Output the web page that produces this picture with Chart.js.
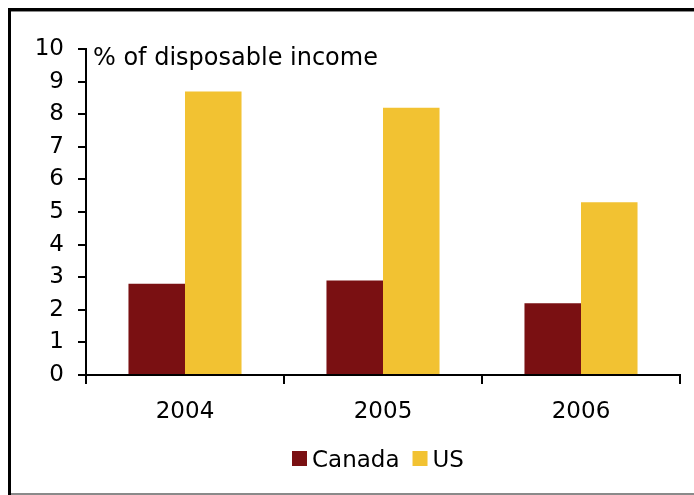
<!DOCTYPE html>
<html>
<head>
<meta charset="utf-8">
<script src="https://cdn.jsdelivr.net/npm/chart.js@4/dist/chart.umd.min.js"></script>
<style>
  body { margin: 0; background: #fff; }
  #wrap { width: 694px; height: 495px; }
</style>
</head>
<body>
<div id="wrap"><canvas id="des" width="694" height="495"></canvas></div>
<script>
var years = ['2004', '2005', '2006'];
var canada = [2.8, 2.9, 2.2];
var us = [8.7, 8.2, 5.3];
var yTicks = [0, 1, 2, 3, 4, 5, 6, 7, 8, 9, 10];
var unitLabel = '% of disposable income';

var fnt = "'DejaVu Sans', Verdana, sans-serif";

// frame round the chart + unit text + legend, drawn by hand
var extras = {
  id: 'extras',
  beforeDraw: function(chart) {
    var c = chart.ctx;
    c.save();
    c.fillStyle = '#fff';
    c.fillRect(0, 0, 694, 495);
    c.fillStyle = '#000';
    c.fillRect(8, 8, 3, 487);
    c.fillRect(8, 8, 686, 3);
    c.fillStyle = '#8a8a8a';
    c.fillRect(11, 11, 683, 1);
    c.fillRect(11, 493, 683, 2);
    c.restore();
  },
  afterDraw: function(chart) {
    var c = chart.ctx;
    c.save();
    c.fillStyle = '#000';
    c.font = '24px ' + fnt;
    c.textBaseline = 'alphabetic';
    c.textAlign = 'left';
    c.fillText(unitLabel, 93, 65);

    // legend
    c.font = '23px ' + fnt;
    var x = 292, y = 451;
    chart.data.datasets.forEach(function(ds, i) {
      c.fillStyle = ds.backgroundColor;
      c.fillRect(x, y, 15, 15);
      c.fillStyle = '#000';
      c.fillText(ds.label, x + 20, 467);
      x += 20 + c.measureText(ds.label).width + 13;
    });
    c.restore();
  }
};

var chart = new Chart(document.getElementById('des'), {
  type: 'bar',
  data: {
    labels: years,
    datasets: [
      { label: 'Canada', data: canada, backgroundColor: '#7A1012', categoryPercentage: 0.571, barPercentage: 1 },
      { label: 'US', data: us, backgroundColor: '#F2C232', categoryPercentage: 0.571, barPercentage: 1 }
    ]
  },
  options: {
    responsive: false,
    animation: false,
    layout: { padding: { top: 49, right: 14, bottom: 0, left: 0 } },
    plugins: { legend: { display: false }, tooltip: { enabled: false } },
    scales: {
      x: {
        grid: { drawOnChartArea: false, drawTicks: true, tickLength: 9, color: '#000', lineWidth: 2 },
        border: { display: true, color: '#000', width: 2 },
        ticks: { color: '#000', font: { family: fnt, size: 23 }, padding: 14, maxRotation: 0 },
        afterFit: function(s) { s.height = 120; }
      },
      y: {
        min: 0, max: 10,
        afterBuildTicks: function(s) { s.ticks = yTicks.map(function(v) { return { value: v }; }); },
        grid: { drawOnChartArea: false, drawTicks: true, tickLength: 8, color: '#000', lineWidth: 2 },
        border: { display: true, color: '#000', width: 2 },
        ticks: { color: '#000', font: { family: fnt, size: 23 }, padding: 14 },
        afterFit: function(s) { s.width = 86; }
      }
    }
  },
  plugins: [extras]
});
</script>
</body>
</html>
